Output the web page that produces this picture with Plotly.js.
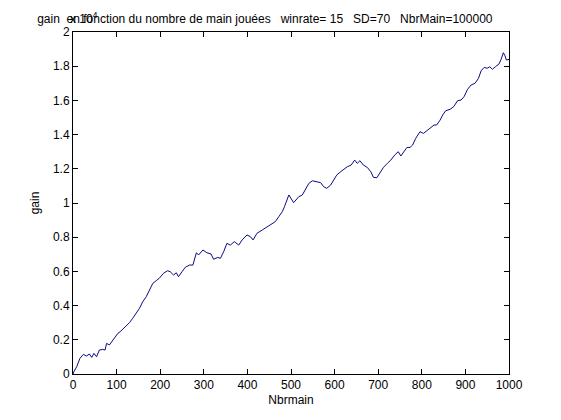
<!DOCTYPE html>
<html>
<head>
<meta charset="utf-8">
<script src="https://cdn.plot.ly/plotly-3.0.1.min.js"></script>
<style>html,body{margin:0;padding:0;background:#fff;}#chart{width:561px;height:420px;}</style>
</head>
<body>
<div id="chart"></div>
<script>
// Number of hands played (hundreds)
const nbrMain = [0, 2, 8.5, 16, 24, 31, 37.5, 43, 48, 54, 60.5, 68, 73.5, 77, 83.5, 91, 96.5, 103, 108, 114, 122, 129.5, 137, 145, 152.5, 160, 168, 175.5, 183, 191, 198, 207.5, 217, 223, 230.5, 237, 242, 250, 257.5, 267.5, 275, 283, 288, 298, 307, 316.5, 322.5, 332, 338, 345.5, 353, 361, 370, 380, 388, 399, 407, 413, 422, 434, 445, 457, 464, 472, 480, 485, 491, 495, 506, 518, 526, 533, 541, 549, 556, 568, 575, 582, 591, 598, 605, 614, 621, 629, 638, 646, 652, 658, 666, 675, 683, 689, 697, 704, 712, 721, 729, 738, 746, 752, 759, 766, 773, 779, 786, 796, 804, 811, 819, 828, 834, 842, 848, 855, 865, 873, 882, 890, 897, 905, 913, 922, 930, 936, 943, 950, 956, 962, 969, 977, 982, 987, 991, 994, 1000];
// Gain
const gain = [0, 130, 430, 920, 1150, 1050, 1170, 970, 1210, 1010, 1400, 1440, 1400, 1790, 1700, 1990, 2180, 2380, 2470, 2610, 2810, 3000, 3260, 3550, 3840, 4230, 4520, 4910, 5300, 5460, 5600, 5890, 6040, 5980, 5790, 5920, 5690, 5980, 6240, 6370, 6370, 7090, 6960, 7250, 7090, 7020, 6710, 6820, 6760, 7150, 7640, 7540, 7740, 7540, 7840, 8130, 8030, 7840, 8230, 8420, 8610, 8810, 8910, 9200, 9490, 9780, 10270, 10470, 10020, 10370, 10470, 10760, 11150, 11300, 11250, 11190, 10950, 10860, 11050, 11340, 11640, 11830, 11970, 12120, 12220, 12510, 12320, 12470, 12220, 12080, 11830, 11500, 11480, 11740, 12080, 12320, 12510, 12810, 13000, 12750, 13000, 13250, 13250, 13390, 13780, 14170, 14070, 14230, 14370, 14560, 14560, 14850, 15150, 15400, 15480, 15630, 15980, 16020, 16220, 16650, 16900, 17000, 17290, 17730, 17930, 17880, 17970, 17820, 17970, 18130, 18410, 18790, 18600, 18360, 18400];
const xTicks = [0, 100, 200, 300, 400, 500, 600, 700, 800, 900, 1000];
const yTickVals = [0, 2000, 4000, 6000, 8000, 10000, 12000, 14000, 16000, 18000, 20000];
const yTickText = ['0', '0.2', '0.4', '0.6', '0.8', '1', '1.2', '1.4', '1.6', '1.8', '2'];

const font = {family: 'Liberation Sans, Arial, sans-serif', size: 12, color: '#000'};

const trace = {
  x: nbrMain, y: gain, type: 'scatter', mode: 'lines',
  line: {color: '#0a0a82', width: 1}, hoverinfo: 'skip'
};

const axisCommon = {
  showline: true, mirror: 'ticks', linecolor: '#000', linewidth: 1,
  ticks: 'inside', ticklen: 5, tickcolor: '#000', tickwidth: 1,
  showgrid: false, zeroline: false, tickfont: font
};

const layout = {
  width: 561, height: 420,
  margin: {l: 73, r: 52, t: 32, b: 46},
  paper_bgcolor: '#fff', plot_bgcolor: '#fff',
  font: font,
  showlegend: false,
  title: {
    text: 'gain  en fonction du nombre de main jouées   winrate= 15   SD=70   NbrMain=100000',
    font: font, xref: 'paper', x: 0.44, xanchor: 'center', yref: 'container', y: 0.955, yanchor: 'middle'
  },
  xaxis: Object.assign({}, axisCommon, {
    range: [0, 1000], tickvals: xTicks, ticktext: xTicks.map(String),
    title: {text: 'Nbrmain', font: font, standoff: 4}
  }),
  yaxis: Object.assign({}, axisCommon, {
    range: [0, 20000], tickvals: yTickVals, ticktext: yTickText,
    title: {text: 'gain', font: font, standoff: 10}
  }),
  annotations: [{
    text: 'x 10<sup>4</sup>', xref: 'paper', yref: 'paper', x: -0.012, y: 1.0,
    xanchor: 'left', yanchor: 'bottom', showarrow: false, font: font, yshift: 4
  }]
};

Plotly.newPlot('chart', [trace], layout, {staticPlot: true, displayModeBar: false});
</script>
</body>
</html>
